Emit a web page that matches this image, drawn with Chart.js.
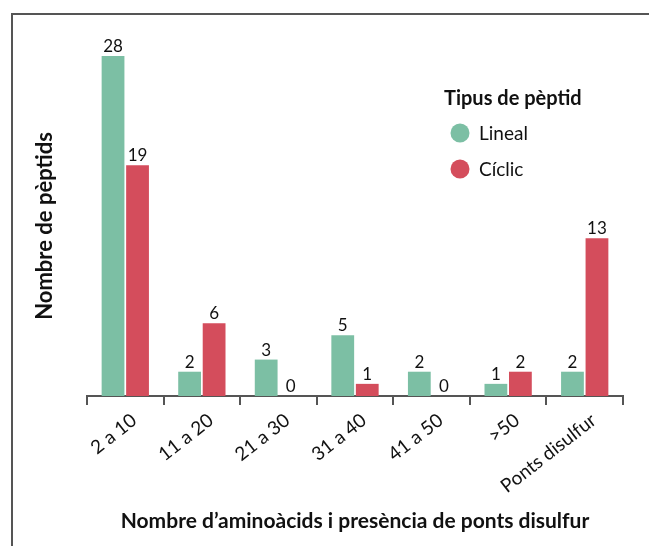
<!DOCTYPE html>
<html>
<head>
<meta charset="utf-8">
<script src="https://cdn.jsdelivr.net/npm/chart.js@4"></script>
<style>
html,body{margin:0;padding:0;background:#fff;}
#wrap{position:relative;width:649px;height:546px;}
#frame{position:absolute;left:11px;top:13px;right:0;bottom:0;border-top:2px solid #555;border-left:2px solid #555;pointer-events:none;}
canvas{position:absolute;left:0;top:0;}
</style>
</head>
<body>
<div id="wrap"><canvas id="c" width="649" height="546"></canvas><div id="frame"></div></div>
<script>
const categories = ["2 a 10", "11 a 20", "21 a 30", "31 a 40", "41 a 50", ">50", "Ponts disulfur"];
const lineal = [28, 2, 3, 5, 2, 1, 2];
const ciclic = [19, 6, 0, 1, 0, 2, 13];
const seriesNames = ["Lineal", "Cíclic"];
const legendTitle = "Tipus de pèptid";
const xTitle = "Nombre d\u2019aminoàcids i presència de ponts disulfur";
const yTitle = "Nombre de pèptids";

const GREEN = "#7cbfa4";
const RED = "#d44d5c";
const TEXT = "#111";
const AXIS = "#555";

const dataLabels = {
  id: "dataLabels",
  afterDatasetsDraw(chart) {
    const ctx = chart.ctx;
    ctx.save();
    ctx.font = "17px Lato";
    ctx.fillStyle = TEXT;
    ctx.textAlign = "center";
    ctx.textBaseline = "bottom";
    chart.data.datasets.forEach((ds, i) => {
      const meta = chart.getDatasetMeta(i);
      meta.data.forEach((el, j) => {
        ctx.fillText(String(ds.data[j]), el.x, el.y - 1);
      });
    });
    ctx.restore();
  }
};

const customLegend = {
  id: "customLegend",
  afterDraw(chart) {
    const ctx = chart.ctx;
    ctx.save();
    ctx.fillStyle = TEXT;
    ctx.textBaseline = "middle";
    ctx.textAlign = "left";
    ctx.font = "bold 20px Lato";
    ctx.fillText(legendTitle, 444, 99);
    ctx.font = "19px Lato";
    chart.data.datasets.forEach((ds, i) => {
      const y = 133 + i * 36;
      ctx.beginPath();
      ctx.arc(460, y, 9.5, 0, Math.PI * 2);
      ctx.fillStyle = ds.backgroundColor;
      ctx.fill();
      ctx.fillStyle = TEXT;
      ctx.fillText(ds.label, 479, y + 1);
    });
    ctx.restore();
  }
};

new Chart(document.getElementById("c"), {
  type: "bar",
  data: {
    labels: categories,
    datasets: [
      { label: seriesNames[0], data: lineal, backgroundColor: GREEN },
      { label: seriesNames[1], data: ciclic, backgroundColor: RED }
    ]
  },
  options: {
    responsive: false,
    animation: false,
    devicePixelRatio: 1,
    layout: { padding: { top: 56, right: 26, left: 10, bottom: 0 } },
    categoryPercentage: 0.64,
    barPercentage: 0.93,
    plugins: { legend: { display: false }, tooltip: { enabled: false } },
    scales: {
      x: {
        afterFit(s) { s.height = 150; },
        border: { display: true, color: AXIS, width: 2 },
        grid: { display: true, drawOnChartArea: false, drawTicks: true, tickLength: 9, color: AXIS, lineWidth: 2, offset: true },
        ticks: { minRotation: 38, maxRotation: 38, labelOffset: 9, padding: 4, color: TEXT, font: { family: "Lato", size: 19 } },
        title: { display: true, text: xTitle, color: TEXT, font: { family: "Lato", size: 21, weight: "bold" }, padding: { top: 0, bottom: 12 } }
      },
      y: {
        min: 0, max: 28,
        afterFit(s) { s.width = 77; },
        border: { display: false },
        grid: { display: false },
        ticks: { display: false },
        title: { display: true, text: yTitle, color: TEXT, font: { family: "Lato", size: 22, weight: "bold" }, padding: { top: 22, bottom: 10 } }
      }
    }
  },
  plugins: [dataLabels, customLegend]
});
</script>
</body>
</html>
